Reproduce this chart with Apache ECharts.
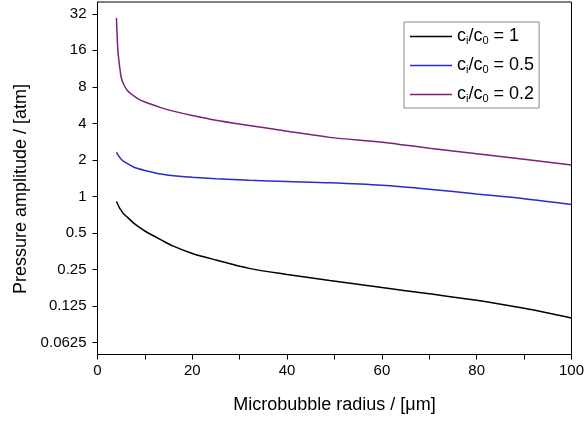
<!DOCTYPE html>
<html>
<head>
<meta charset="utf-8">
<script src="https://cdn.jsdelivr.net/npm/echarts@6/dist/echarts.min.js"></script>
<style>html,body{margin:0;padding:0;background:#fff}#c{width:587px;height:421px}</style>
</head>
<body>
<div id="c"></div>
<script>
var radius = [4, 4.3, 4.7, 5, 5.5, 6.4, 7.5, 8.5, 10, 13.4, 16, 20, 25, 32, 40, 49, 60, 70, 80, 90, 100];
var ratio1 = [0.91, 0.86, 0.80, 0.77, 0.72, 0.67, 0.61, 0.57, 0.52, 0.44, 0.39, 0.34, 0.30, 0.256, 0.228, 0.203, 0.178, 0.158, 0.14, 0.12, 0.10];
var ratio05 = [2.31, 2.2, 2.1, 2.03, 1.95, 1.86, 1.76, 1.70, 1.64, 1.53, 1.48, 1.44, 1.40, 1.36, 1.33, 1.30, 1.24, 1.15, 1.05, 0.96, 0.86];
var ratio02 = [29.5, 16, 11.5, 9.6, 8.4, 7.4, 6.8, 6.4, 6.0, 5.4, 5.05, 4.65, 4.25, 3.85, 3.45, 3.07, 2.8, 2.5, 2.25, 2.03, 1.82];
var seriesLabels = ['1', '0.5', '0.2'];
var yTicks = [0.0625, 0.125, 0.25, 0.5, 1, 2, 4, 8, 16, 32];
var xTitle = 'Microbubble radius / [\u03bcm]';
var yTitle = 'Pressure amplitude / [atm]';

function pairs(xs, ys) { return xs.map(function (x, i) { return [x, ys[i]]; }); }
var colors = ['#000000', '#2a2ad0', '#7d1f7d'];
var datasets = [ratio1, ratio05, ratio02];
var FONT = '"Liberation Sans", Arial, sans-serif';

var chart = echarts.init(document.getElementById('c'), null, {renderer: 'canvas'});
chart.setOption({
  animation: false,
  backgroundColor: '#fff',
  grid: {left: 97.5, right: 10, top: 2, bottom: 66.5, show: true, borderColor: '#000', borderWidth: 1, containLabel: false},
  xAxis: {
    type: 'value', min: 0, max: 100, interval: 10,
    name: xTitle, nameLocation: 'middle', nameGap: 42,
    nameTextStyle: {fontFamily: FONT, fontSize: 18, color: '#000'},
    axisLine: {lineStyle: {color: '#000', width: 1}},
    axisTick: {inside: false, length: 5, lineStyle: {color: '#000'}},
    axisLabel: {fontFamily: FONT, fontSize: 15, color: '#000', margin: 9, showMaxLabel: true,
      formatter: function (v) { return v % 20 === 0 ? String(v) : ''; }},
    splitLine: {show: false}
  },
  yAxis: {
    type: 'log', logBase: 2, min: 0.05, max: 40,
    axisLine: {show: true, lineStyle: {color: '#000', width: 1}},
    axisTick: {show: true, length: 5, lineStyle: {color: '#000'}, customValues: yTicks},
    axisLabel: {fontFamily: FONT, fontSize: 15, color: '#000', margin: 11, customValues: yTicks,
      formatter: function (v) { return String(Number(v.toPrecision(6))); }},
    splitLine: {show: false},
    minorTick: {show: false}
  },
  legend: {
    orient: 'vertical', left: 404, top: 22,
    padding: [4, 5, 4, 6],
    icon: 'rect',
    itemWidth: 42, itemHeight: 1.5, itemGap: 9,
    borderColor: '#888', borderWidth: 1,
    backgroundColor: '#fff',
    textStyle: {fontFamily: FONT, fontSize: 18, color: '#000', lineHeight: 19,
      rich: {sub: {fontFamily: FONT, fontSize: 11, color: '#000', verticalAlign: 'bottom', lineHeight: 19, padding: [9, 0, 0, 0]}}},
    formatter: function (name) {
      var val = name.split('= ')[1];
      return 'c{sub|i}/c{sub|0} = ' + val;
    },
    data: seriesLabels.map(function (s) { return 'ci/c0 = ' + s; })
  },
  graphic: [{
    type: 'text', x: 21, y: 189, rotation: Math.PI / 2,
    style: {text: yTitle, fontFamily: FONT, fontSize: 18, fill: '#000', align: 'center', verticalAlign: 'middle'}
  }],
  series: datasets.map(function (d, i) {
    return {
      type: 'line', name: 'ci/c0 = ' + seriesLabels[i],
      data: pairs(radius, d), smooth: 0.3, symbol: 'none', showSymbol: false,
      lineStyle: {color: colors[i], width: 1.5}, itemStyle: {color: colors[i]}
    };
  })
});
</script>
</body>
</html>
